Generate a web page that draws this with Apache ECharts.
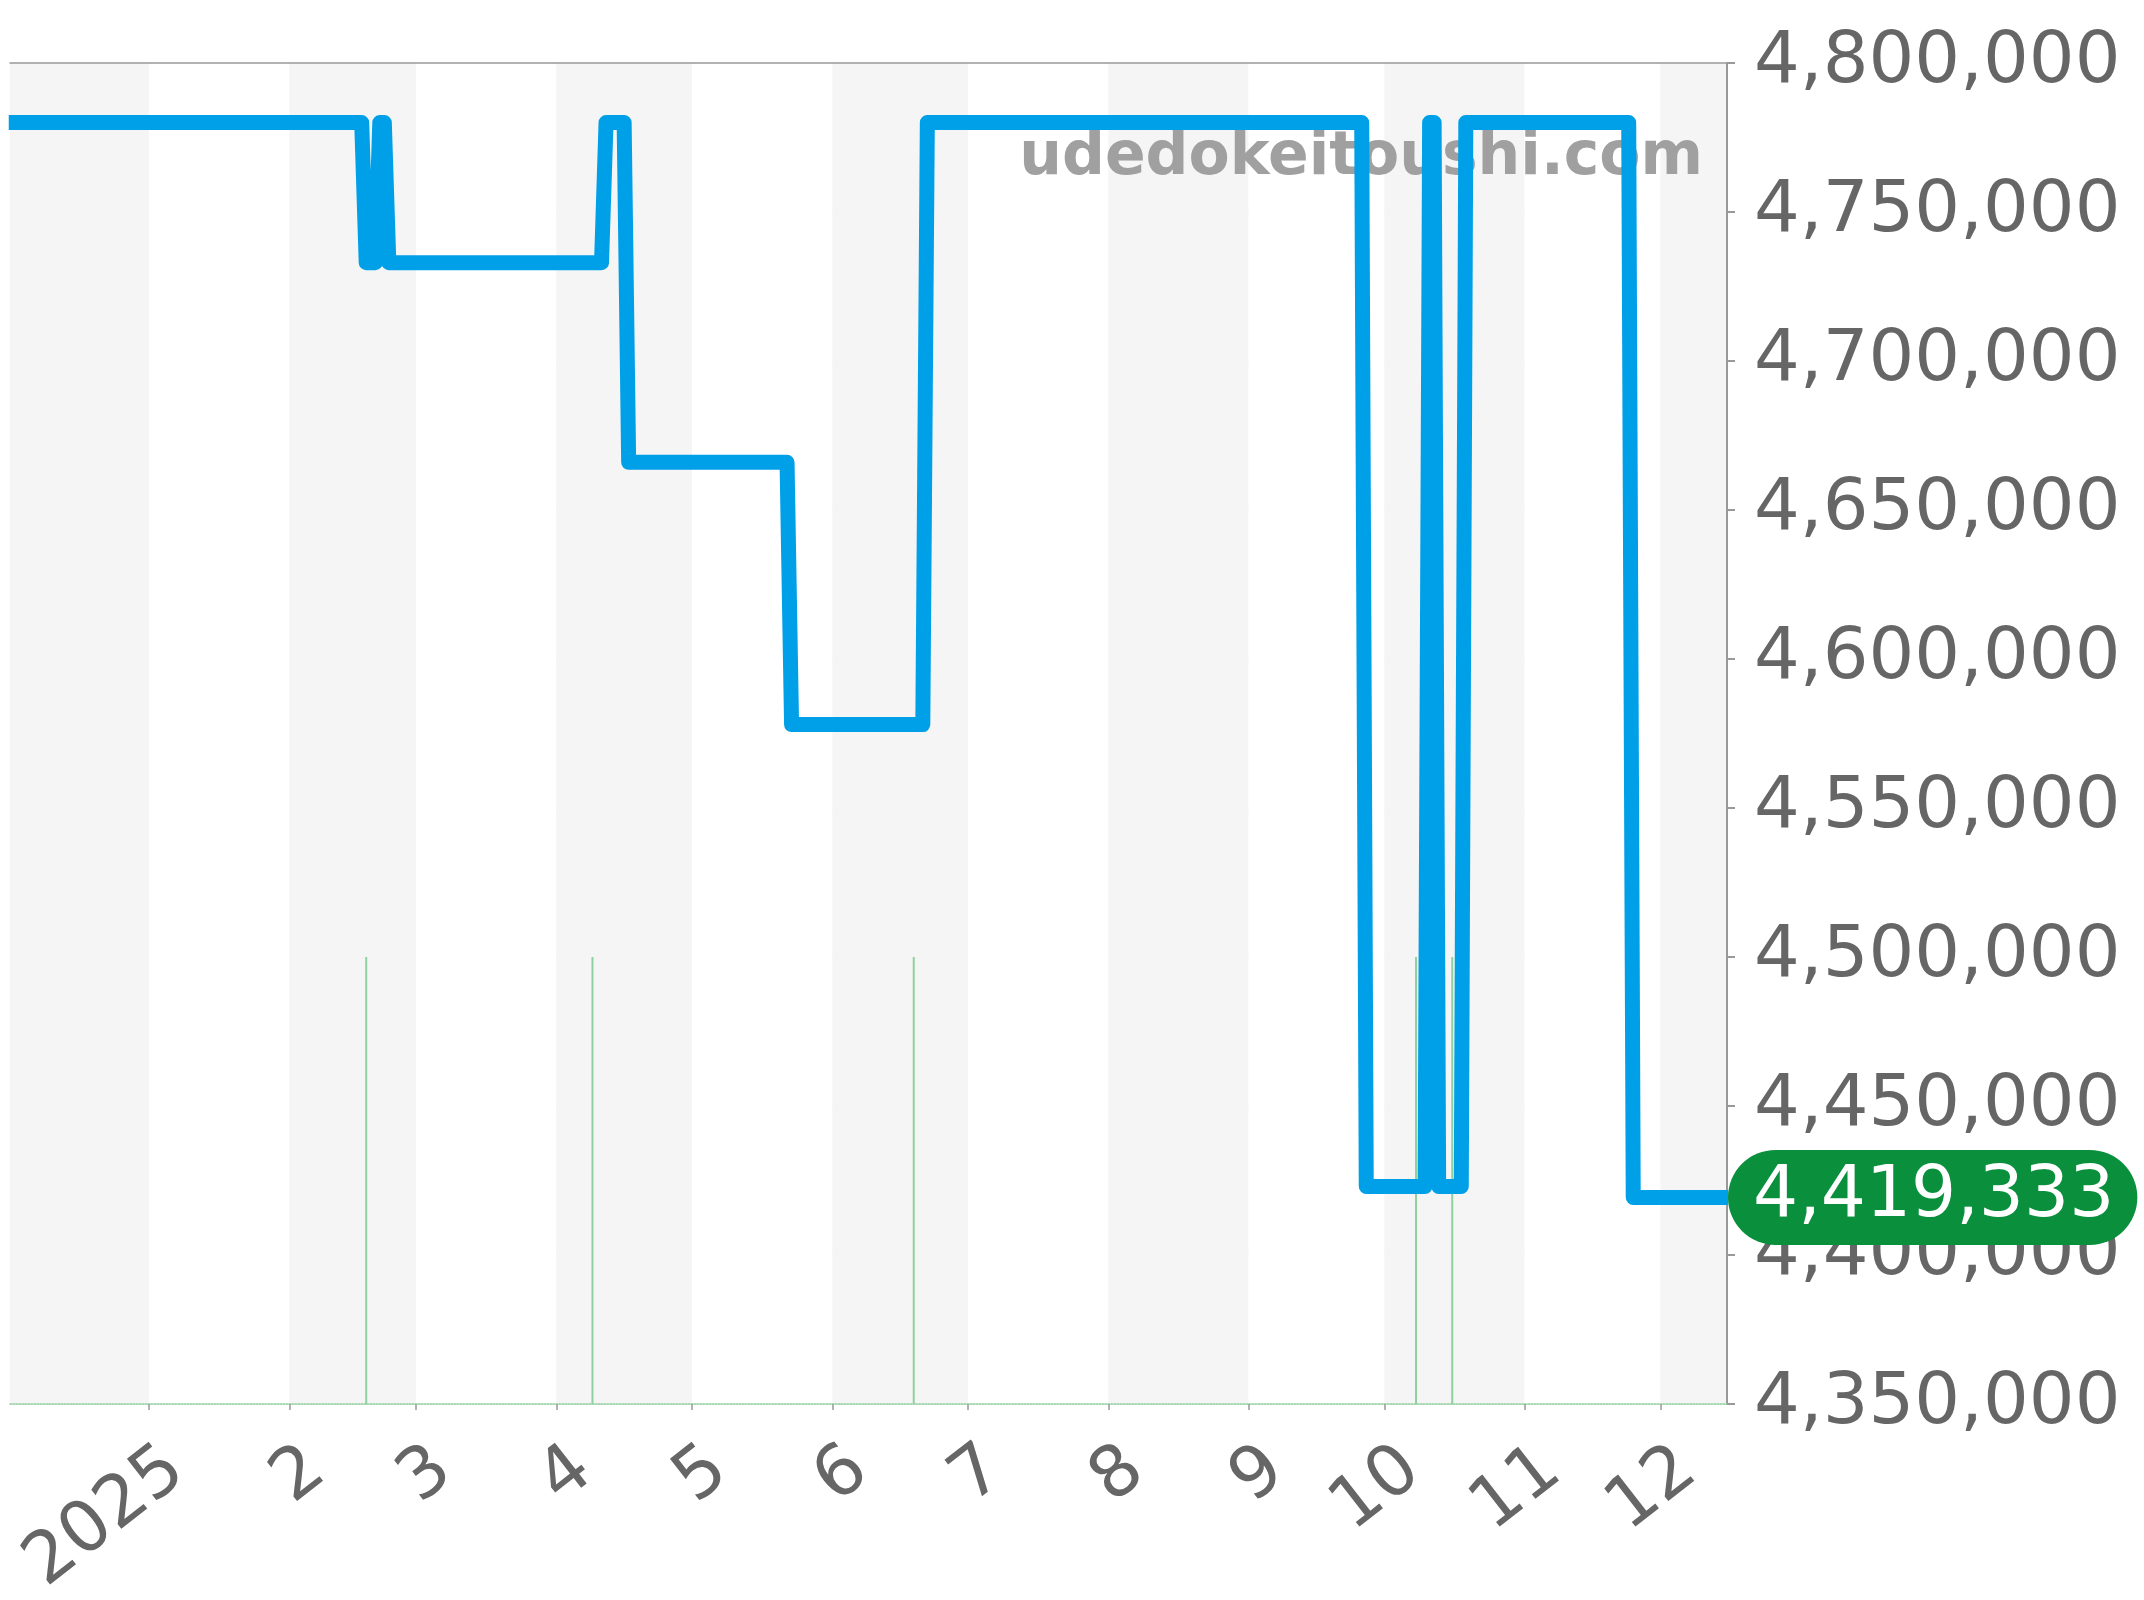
<!DOCTYPE html>
<html>
<head>
<meta charset="utf-8">
<style>
  html, body { margin: 0; padding: 0; background: #ffffff; }
  #chart { width: 2144px; height: 1600px; }
</style>
<script src="https://cdn.jsdelivr.net/npm/echarts@6/dist/echarts.min.js"></script>
</head>
<body>
<div id="chart"></div>
<script>
// ---- data ----
const lineDates = [
  '2024-12-01', '2025-02-17', '2025-02-18', '2025-02-20', '2025-02-21', '2025-02-22',
  '2025-02-23', '2025-04-11', '2025-04-12', '2025-04-16', '2025-04-17', '2025-05-22',
  '2025-05-23', '2025-06-21', '2025-06-22', '2025-09-26', '2025-09-27', '2025-10-10',
  '2025-10-11', '2025-10-12', '2025-10-13', '2025-10-18', '2025-10-19', '2025-11-24',
  '2025-11-25', '2025-12-16'
];
const lineValues = [
  4780000, 4780000, 4733000, 4733000, 4780000, 4780000,
  4733000, 4733000, 4780000, 4780000, 4666000, 4666000,
  4578000, 4578000, 4780000, 4780000, 4423000, 4423000,
  4780000, 4780000, 4423000, 4423000, 4780000, 4780000,
  4419333, 4419333
];
const saleDates = ['2025-02-18', '2025-04-09', '2025-06-19', '2025-10-08', '2025-10-16'];
const saleCounts = [1, 1, 1, 1, 1];
const axisMinDate = '2024-12-01 12:00';
const axisMaxDate = '2025-12-15 12:00';
const yMin = 4350000, yMax = 4800000, yStep = 50000;
const watermarkText = 'udedokeitoushi.com';
const lastValue = lineValues[lineValues.length - 1];

const FONT = '"DejaVu Sans", "Noto Sans", sans-serif';
const fmt = v => Number(v).toLocaleString('en-US');

const chart = echarts.init(document.getElementById('chart'), null, { renderer: 'canvas' });

chart.setOption({
  animation: false,
  backgroundColor: '#ffffff',
  grid: { left: 10, right: 417, top: 63, bottom: 196, containLabel: false, outerBoundsMode: 'none' },
  graphic: [{
    type: 'text',
    z: 1,
    x: 1703,
    y: 158,
    style: {
      text: watermarkText,
      font: 'bold 60px ' + FONT,
      fill: '#a0a0a0',
      align: 'right',
      verticalAlign: 'middle'
    }
  }],
  xAxis: [{
    type: 'time',
    min: axisMinDate,
    max: axisMaxDate,
    splitNumber: 12,
    minInterval: 28 * 86400000,
    maxInterval: 31 * 86400000,
    axisLine: { show: true, onZero: false, lineStyle: { color: '#8fd19e', width: 1.5, type: 'dotted' } },
    axisTick: { show: true, length: 6, lineStyle: { color: '#999999', width: 1.5 } },
    axisLabel: {
      show: true,
      rotate: 38,
      margin: 22,
      align: 'right',
      verticalAlign: 'top',
      padding: [10, 0, 0, 0],
      fontSize: 71,
      fontFamily: FONT,
      color: '#666666',
      showMinLabel: false,
      showMaxLabel: false,
      formatter: function (val) {
        const d = new Date(val);
        return d.getMonth() === 0 ? String(d.getFullYear()) : String(d.getMonth() + 1);
      }
    },
    splitLine: { show: false },
    splitArea: { show: true, areaStyle: { color: ['#f5f5f5', '#ffffff'] } }
  }, {
    type: 'value',
    position: 'top',
    min: 0,
    max: 1,
    axisLine: { show: true, onZero: false, lineStyle: { color: '#999999', width: 1.5 } },
    axisTick: { show: false },
    axisLabel: { show: false },
    splitLine: { show: false }
  }],
  yAxis: [{
    type: 'value',
    position: 'right',
    min: yMin,
    max: yMax,
    interval: yStep,
    axisLine: { show: true, onZero: false, lineStyle: { color: '#999999', width: 2 } },
    axisTick: { show: true, length: 8, lineStyle: { color: '#999999', width: 2 } },
    axisLabel: {
      margin: 27,
      fontSize: 72,
      fontFamily: FONT,
      color: '#666666',
      padding: [34, 0, 0, 0],
      formatter: fmt
    },
    splitLine: { show: true, lineStyle: { color: '#e6e6e6', width: 1 } }
  }, {
    type: 'value',
    show: false,
    min: 0,
    max: 3,
    axisLine: { onZero: false },
    splitLine: { show: false }
  }],
  series: [{
    name: 'sales',
    type: 'bar',
    xAxisIndex: 0,
    yAxisIndex: 1,
    z: 2,
    barWidth: 2,
    itemStyle: { color: '#8fd19e' },
    data: saleDates.map((d, i) => [d, saleCounts[i]])
  }, {
    name: 'price',
    type: 'line',
    xAxisIndex: 0,
    yAxisIndex: 0,
    z: 3,
    showSymbol: false,
    symbol: 'none',
    lineStyle: { color: '#00a0e9', width: 15, join: 'round', cap: 'butt' },
    data: lineDates.map((d, i) => [d, lineValues[i]]),
    markLine: {
      silent: true,
      symbol: ['none', 'none'],
      lineStyle: { color: 'rgba(0,0,0,0)', width: 0 },
      label: {
        show: true,
        position: 'end',
        distance: 1,
        formatter: () => fmt(lastValue),
        fontSize: 71,
        fontFamily: FONT,
        color: '#ffffff',
        backgroundColor: '#0a8f3c',
        borderRadius: 48,
        padding: [12, 23, 12, 25]
      },
      data: [{ yAxis: lastValue }]
    }
  }]
});
</script>
</body>
</html>
